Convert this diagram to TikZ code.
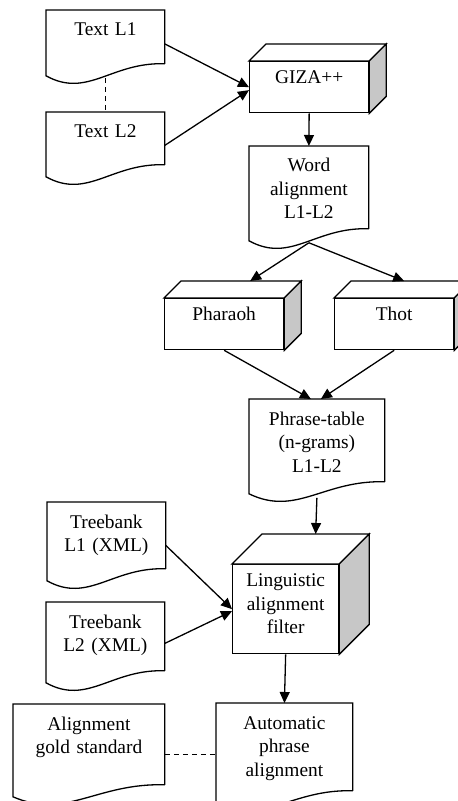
\documentclass[tikz,border=0pt]{standalone}
\usepackage{fontspec}
\setmainfont{Liberation Serif}
\usetikzlibrary{arrows.meta,calc}

% document outline with a wavy bottom, hung on a node
\newcommand{\docwave}[1]{%
  \draw[outline] (#1.south east) -- (#1.north east) -- (#1.north west) -- ([yshift=-6pt]#1.south west)
    .. controls ($(#1.south west)!0.35!(#1.south east)+(0pt,-17.5pt)$) and ($(#1.south west)!0.55!(#1.south east)+(0pt,1pt)$) .. (#1.south east);}
% top and side faces of a box
\newcommand{\cubeside}[2]{%
  \draw[outline, fill=white] (#1.north west) -- ++(#2,#2) -- ([shift={(#2,#2)}]#1.north east) -- (#1.north east) -- cycle;
  \draw[outline, fill=black!22] (#1.north east) -- ++(#2,#2) -- ([shift={(#2,#2)}]#1.south east) -- (#1.south east) -- cycle;}

\begin{document}
\begin{tikzpicture}[x=0.5pt, y=-0.5pt, line join=miter]
  \tikzstyle{outline}=[line width=0.65pt]
  \tikzstyle{doc}=[anchor=north west, inner sep=0pt, align=center, font=\fontsize{9.7}{11.75}\selectfont, text height=12.8pt]
  \tikzstyle{cube}=[doc, draw, outline, fill=white, text height=11.1pt]
  \tikzstyle{flow}=[outline, -{Triangle[length=5.5pt,width=5pt]}]
  \tikzstyle{link}=[outline, dash pattern=on 2.5pt off 2pt]
  \useasboundingbox (0,0) rectangle (458,801);

  \node[doc, text width=59pt, text depth=13.7pt] (t1) at (46,10) {Text L1};
  \node[doc, text width=59pt, text depth=13.2pt] (t2) at (46,112) {Text L2};
  \node[cube, text width=59.5pt, text depth=14.4pt] (giza) at (249,61) {GIZA++};
  \node[doc, text width=59.5pt, text depth=28.2pt] (word) at (249,146) {Word\\alignment\\L1-L2};
  \node[cube, text width=59.5pt, text depth=14.4pt] (pharaoh) at (164,298) {Pharaoh};
  \node[cube, text width=59.5pt, text depth=14.4pt] (thot) at (334,298) {Thot};
  \node[doc, text width=67.5pt, text depth=28.2pt] (phrase) at (249,399) {Phrase-table\\(n-grams)\\L1-L2};
  \node[doc, text width=59pt, text depth=20.2pt] (tb1) at (47,502) {Treebank\\L1 (XML)};
  \node[doc, text width=59pt, text depth=21.2pt] (tb2) at (46,602) {Treebank\\L2 (XML)};
  \node[cube, text width=53pt, text depth=33.4pt] (filter) at (232,564) {Linguistic\\alignment\\filter};
  \node[doc, text width=75.5pt, text depth=27.2pt] (gold) at (13,704) {Alignment\\gold standard};
  \node[doc, text width=68pt, text depth=30.7pt] (auto) at (216,703) {Automatic\\phrase\\alignment};

  \foreach \n in {t1,t2,word,phrase,tb1,tb2,gold,auto} {\docwave{\n}}
  \foreach \n/\d in {giza/8.5pt,pharaoh/8.5pt,thot/8.5pt,filter/15pt} {\cubeside{\n}{\d}}

  \draw[flow] ([yshift=-3.5pt]t1.east) -- (giza.west);
  \draw[flow] ([yshift=-3.5pt]t2.east) -- ([yshift=-1.5pt]giza.west);
  \draw[link] ([yshift=-7pt]t1.south) -- (t2.north);
  \draw[flow] (giza.south) -- (word.north);
  \draw[flow] ([yshift=-7pt]word.south) -- ([xshift=13pt,yshift=8.5pt]pharaoh.north);
  \draw[flow] ([yshift=-7pt]word.south) -- ([xshift=5pt,yshift=8.5pt]thot.north);
  \draw[flow] (pharaoh.south) -- ([xshift=-3pt]phrase.north);
  \draw[flow] (thot.south) -- ([xshift=2pt]phrase.north);
  \draw[flow] ([yshift=-8pt]phrase.south) -- ([shift={(15pt,15pt)}]filter.north);
  \draw[flow] ([yshift=-5pt]tb1.east) -- (filter.west);
  \draw[flow] ([yshift=-3.5pt]tb2.east) -- ([yshift=-1pt]filter.west);
  \draw[flow] (filter.south) -- (auto.north);
  \draw[link] ([yshift=-5pt]gold.east) -- ([yshift=-3.75pt]auto.west);
\end{tikzpicture}
\end{document}
